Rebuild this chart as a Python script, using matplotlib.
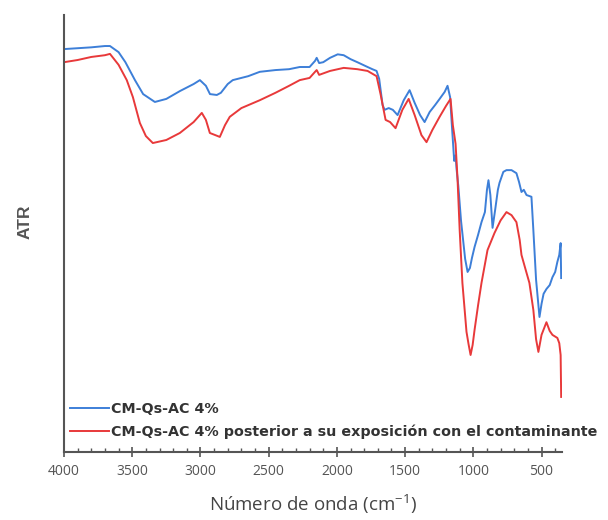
import matplotlib
matplotlib.use("Agg")
import matplotlib.pyplot as plt
from matplotlib.ticker import MultipleLocator

plt.rcParams["mathtext.fontset"] = "custom"
plt.rcParams["mathtext.rm"] = "Open Sans"
plt.rcParams["mathtext.it"] = "Open Sans"
plt.rcParams["mathtext.bf"] = "Open Sans:bold"

# Wavenumber (cm^-1) and ATR signal (arbitrary units, 0-100)
wn_blue = [4000, 3900, 3800, 3700, 3663, 3600, 3550, 3480, 3420, 3334, 3250, 3150, 3050, 3004,
           2960, 2930, 2880, 2850, 2800, 2763, 2650, 2565, 2450, 2350, 2272, 2200, 2160, 2148,
           2130, 2100, 2050, 1994, 1950, 1900, 1850, 1775, 1740, 1709, 1690, 1665, 1650, 1620,
           1590, 1555, 1510, 1467, 1430, 1390, 1357, 1320, 1280, 1247, 1210, 1189, 1170, 1155,
           1140, 1130, 1123, 1110, 1090, 1060, 1042, 1025, 1010, 991, 965, 940, 915, 900, 889,
           875, 859, 840, 820, 808, 780, 757, 720, 684, 665, 647, 630, 610, 574, 560, 540, 515,
           500, 485, 464, 440, 420, 400, 384, 370, 360, 356]
atr_blue = [92.2, 92.4, 92.6, 92.9, 92.9, 91.5, 89.2, 85.1, 81.9, 80.1, 80.8, 82.6, 84.2, 85.1,
            83.8, 81.9, 81.7, 82.2, 84.2, 85.1, 86.0, 87.0, 87.4, 87.6, 88.1, 88.1, 89.5, 90.2,
            89.0, 89.2, 90.2, 91.0, 90.8, 89.9, 89.2, 88.1, 87.6, 87.2, 85.4, 79.4, 78.3, 78.7,
            78.3, 77.1, 80.5, 82.8, 79.9, 77.1, 75.5, 77.8, 79.4, 80.8, 82.4, 83.8, 81.2, 73.7,
            66.6, 67.9, 64.8, 60.9, 52.9, 44.2, 41.2, 42.1, 44.4, 46.9, 49.7, 52.6, 54.9, 60.0, 62.2,
            58.8, 51.3, 55.4, 60.0, 61.6, 64.1, 64.5, 64.5, 63.8, 61.8, 59.5, 60.0, 58.8, 58.4, 50.8,
            39.4, 30.9, 33.9, 36.2, 37.3, 38.2, 40.0, 41.2, 43.5, 45.1, 47.8, 39.8]

wn_red = [4000, 3900, 3800, 3700, 3663, 3600, 3540, 3495, 3444, 3400, 3349, 3250, 3151, 3050,
          2990, 2960, 2931, 2890, 2858, 2820, 2785, 2700, 2565, 2450, 2350, 2272, 2200, 2160,
          2148, 2130, 2050, 1950, 1850, 1775, 1709, 1680, 1643, 1610, 1570, 1520, 1474, 1430,
          1380, 1343, 1300, 1247, 1200, 1167, 1150, 1130, 1116, 1100, 1080, 1050, 1035, 1020,
          1005, 991, 965, 940, 896, 845, 800, 757, 720, 684, 660, 647, 620, 589, 560, 540, 523,
          500, 464, 440, 420, 384, 370, 360, 356]
atr_red = [89.2, 89.7, 90.4, 90.8, 91.1, 88.6, 85.1, 81.2, 75.3, 72.3, 70.7, 71.4, 73.0, 75.5,
           77.6, 76.0, 73.0, 72.5, 72.1, 74.8, 76.7, 78.7, 80.5, 82.2, 83.8, 85.1, 85.6, 87.0,
           87.4, 86.3, 87.2, 87.9, 87.6, 87.2, 86.0, 81.9, 76.0, 75.5, 74.1, 78.3, 80.8, 77.1,
           72.5, 70.9, 73.7, 76.7, 79.2, 80.8, 74.8, 70.5, 62.7, 50.8, 38.7, 27.5, 24.7, 22.2,
           24.5, 27.9, 33.6, 38.7, 46.2, 50.1, 53.0, 54.9, 54.2, 52.6, 48.5, 45.1, 42.1, 38.7, 32.5,
           25.8, 22.9, 26.8, 29.7, 27.7, 26.8, 26.1, 24.9, 22.2, 12.6]

labels = ["CM-Qs-AC 4%", "CM-Qs-AC 4% posterior a su exposición con el contaminante"]
colors = ["#3d7fd8", "#e8393a"]
xticks = [4000, 3500, 3000, 2500, 2000, 1500, 1000, 500]

fig = plt.figure(figsize=(6.08, 5.2), dpi=100)
ax = fig.add_axes([64 / 608, 1 - 452 / 520, 498 / 608, 437 / 520])

ax.plot(wn_blue, atr_blue, color=colors[0], lw=1.4, label=labels[0])
ax.plot(wn_red, atr_red, color=colors[1], lw=1.4, label=labels[1])

ax.set_xlim(4000, 350)
ax.set_ylim(0, 100)

for s in ["top", "right"]:
    ax.spines[s].set_visible(False)
for s in ["left", "bottom"]:
    ax.spines[s].set_color("#555555")
    ax.spines[s].set_linewidth(1.5)

ax.set_yticks([])
ax.set_xticks(xticks)
ax.set_xticklabels([str(t) for t in xticks], fontfamily="Open Sans", fontsize=10, color="#555555")
ax.xaxis.set_minor_locator(MultipleLocator(100))
ax.tick_params(axis="x", which="major", direction="inout", length=7, width=1.2, color="#555555", pad=5)
ax.tick_params(axis="x", which="minor", direction="in", length=3, width=1.0, color="#555555")

ax.set_xlabel("Número de onda (cm$^{-1}$)", fontfamily="Open Sans", fontsize=13.5, color="#444444", labelpad=10)
fig.text(25 / 608, 1 - 222 / 520, "ATR", rotation=90, ha="center", va="center",
         fontfamily="Liberation Sans", fontweight="bold", fontsize=12.5, color="#555555")

leg = ax.legend(loc="lower left", bbox_to_anchor=(0.012, 0.03), frameon=False, borderpad=0,
                borderaxespad=0, handlelength=2.75, handletextpad=0.15, labelspacing=0.6,
                prop={"family": "DejaVu Sans", "weight": "bold", "size": 10.3})
for t in leg.get_texts():
    t.set_color("#333333")

fig.savefig("out.png", dpi=100)
